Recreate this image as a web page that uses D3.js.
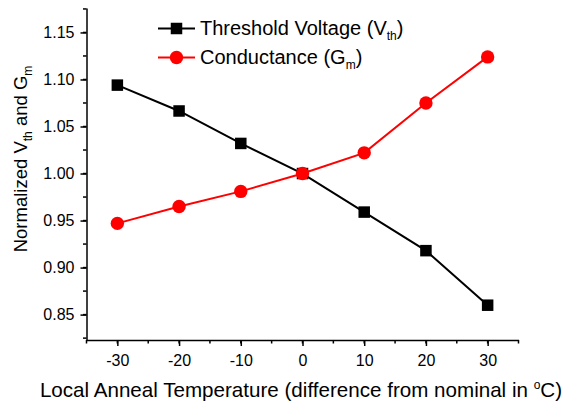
<!DOCTYPE html>
<html>
<head>
<meta charset="utf-8">
<script src="https://cdn.jsdelivr.net/npm/d3@7"></script>
<style>
  body { margin: 0; background: #fff; }
  svg { display: block; }
</style>
</head>
<body>
<div id="chart"></div>
<script>
var temps = [-30, -20, -10, 0, 10, 20, 30];
var vth = [1.094, 1.0665, 1.032, 1.0, 0.959, 0.918, 0.86];
var gm = [0.947, 0.965, 0.981, 1.0, 1.022, 1.075, 1.124];
var xTicks = [-30, -20, -10, 0, 10, 20, 30];
var yTicks = [0.85, 0.9, 0.95, 1.0, 1.05, 1.1, 1.15];

var width = 565;
var height = 405;
var font = "Arial, 'Liberation Sans', sans-serif";

var svg = d3
  .select("#chart")
  .append("svg")
  .attr("width", width)
  .attr("height", height);

var xScale = d3.scaleLinear().domain([-35, 35]).range([86.5, 518.5]);
var yScale = d3.scaleLinear().domain([0.823, 1.176]).range([340, 8]);

// minor ticks
var xMinor = d3.range(-35, 35.1, 5);
var yMinor = d3.range(0.825, 1.176, 0.025);

var xAxis = d3
  .axisBottom(xScale)
  .tickValues(xTicks)
  .tickFormat(function (d) { return String(d); })
  .tickSize(6)
  .tickSizeOuter(0)
  .tickPadding(9);

var yAxis = d3
  .axisLeft(yScale)
  .tickValues(yTicks)
  .tickFormat(d3.format(".2f"))
  .tickSize(6)
  .tickSizeOuter(0)
  .tickPadding(6);

var gx = svg
  .append("g")
  .attr("transform", "translate(0," + yScale.range()[0] + ")")
  .call(xAxis);

gx.selectAll(".tick.minor")
  .data(xMinor)
  .enter()
  .append("line")
  .attr("x1", function (d) { return xScale(d); })
  .attr("x2", function (d) { return xScale(d); })
  .attr("y1", 0)
  .attr("y2", 3.5);

var gy = svg
  .append("g")
  .attr("transform", "translate(" + xScale.range()[0] + ",0)")
  .call(yAxis);

gy.selectAll(".tick.minor")
  .data(yMinor)
  .enter()
  .append("line")
  .attr("y1", function (d) { return yScale(d); })
  .attr("y2", function (d) { return yScale(d); })
  .attr("x1", 0)
  .attr("x2", -3.5);

svg.selectAll(".domain, line").attr("stroke", "#000").attr("stroke-width", 1.5);
svg.selectAll(".tick text")
  .attr("font-family", font)
  .attr("font-size", "16px")
  .attr("fill", "#000");

// lines
var line = d3
  .line()
  .x(function (d) { return xScale(d[0]); })
  .y(function (d) { return yScale(d[1]); });

var vthData = d3.zip(temps, vth);
var gmData = d3.zip(temps, gm);

svg
  .append("path")
  .datum(vthData)
  .attr("d", line)
  .attr("fill", "none")
  .attr("stroke", "#000")
  .attr("stroke-width", 2);

svg
  .append("path")
  .datum(gmData)
  .attr("d", line)
  .attr("fill", "none")
  .attr("stroke", "#ff0000")
  .attr("stroke-width", 2);

var sq = 11.5;
svg
  .selectAll("rect.vth")
  .data(vthData)
  .enter()
  .append("rect")
  .attr("x", function (d) { return xScale(d[0]) - sq / 2; })
  .attr("y", function (d) { return yScale(d[1]) - sq / 2; })
  .attr("width", sq)
  .attr("height", sq)
  .attr("fill", "#000");

svg
  .selectAll("circle.gm")
  .data(gmData)
  .enter()
  .append("circle")
  .attr("cx", function (d) { return xScale(d[0]); })
  .attr("cy", function (d) { return yScale(d[1]); })
  .attr("r", 6.7)
  .attr("fill", "#ff0000");

// legend
var legend = svg.append("g").attr("font-family", font).attr("font-size", "20px");

legend.append("line")
  .attr("x1", 158).attr("x2", 195).attr("y1", 28.5).attr("y2", 28.5)
  .attr("stroke", "#000").attr("stroke-width", 2);
legend.append("rect")
  .attr("x", 176.5 - sq / 2).attr("y", 28.5 - sq / 2)
  .attr("width", sq).attr("height", sq).attr("fill", "#000");
var t1 = legend.append("text").attr("x", 200).attr("y", 35);
t1.append("tspan").text("Threshold Voltage (V");
t1.append("tspan").attr("font-size", "12px").attr("dy", 5).text("th");
t1.append("tspan").attr("dy", -5).text(")");

legend.append("line")
  .attr("x1", 158).attr("x2", 195).attr("y1", 57.5).attr("y2", 57.5)
  .attr("stroke", "#ff0000").attr("stroke-width", 2);
legend.append("circle")
  .attr("cx", 176.5).attr("cy", 57.5).attr("r", 6.7).attr("fill", "#ff0000");
var t2 = legend.append("text").attr("x", 200).attr("y", 64);
t2.append("tspan").text("Conductance (G");
t2.append("tspan").attr("font-size", "12px").attr("dy", 5).text("m");
t2.append("tspan").attr("dy", -5).text(")");

// axis titles
var xt = svg.append("text")
  .attr("x", 301)
  .attr("y", 397)
  .attr("text-anchor", "middle")
  .attr("font-family", font)
  .attr("font-size", "20.6px");
xt.append("tspan").text("Local Anneal Temperature (difference from nominal in ");
xt.append("tspan").attr("font-size", "12px").attr("dy", -8).text("o");
xt.append("tspan").attr("dy", 8).text("C)");

var yt = svg.append("text")
  .attr("transform", "translate(27,159) rotate(-90)")
  .attr("text-anchor", "middle")
  .attr("font-family", font)
  .attr("font-size", "18.5px");
yt.append("tspan").text("Normalized V");
yt.append("tspan").attr("font-size", "12px").attr("dy", 5).text("th");
yt.append("tspan").attr("dy", -5).text(" and G");
yt.append("tspan").attr("font-size", "12px").attr("dy", 5).text("m");
</script>
</body>
</html>
